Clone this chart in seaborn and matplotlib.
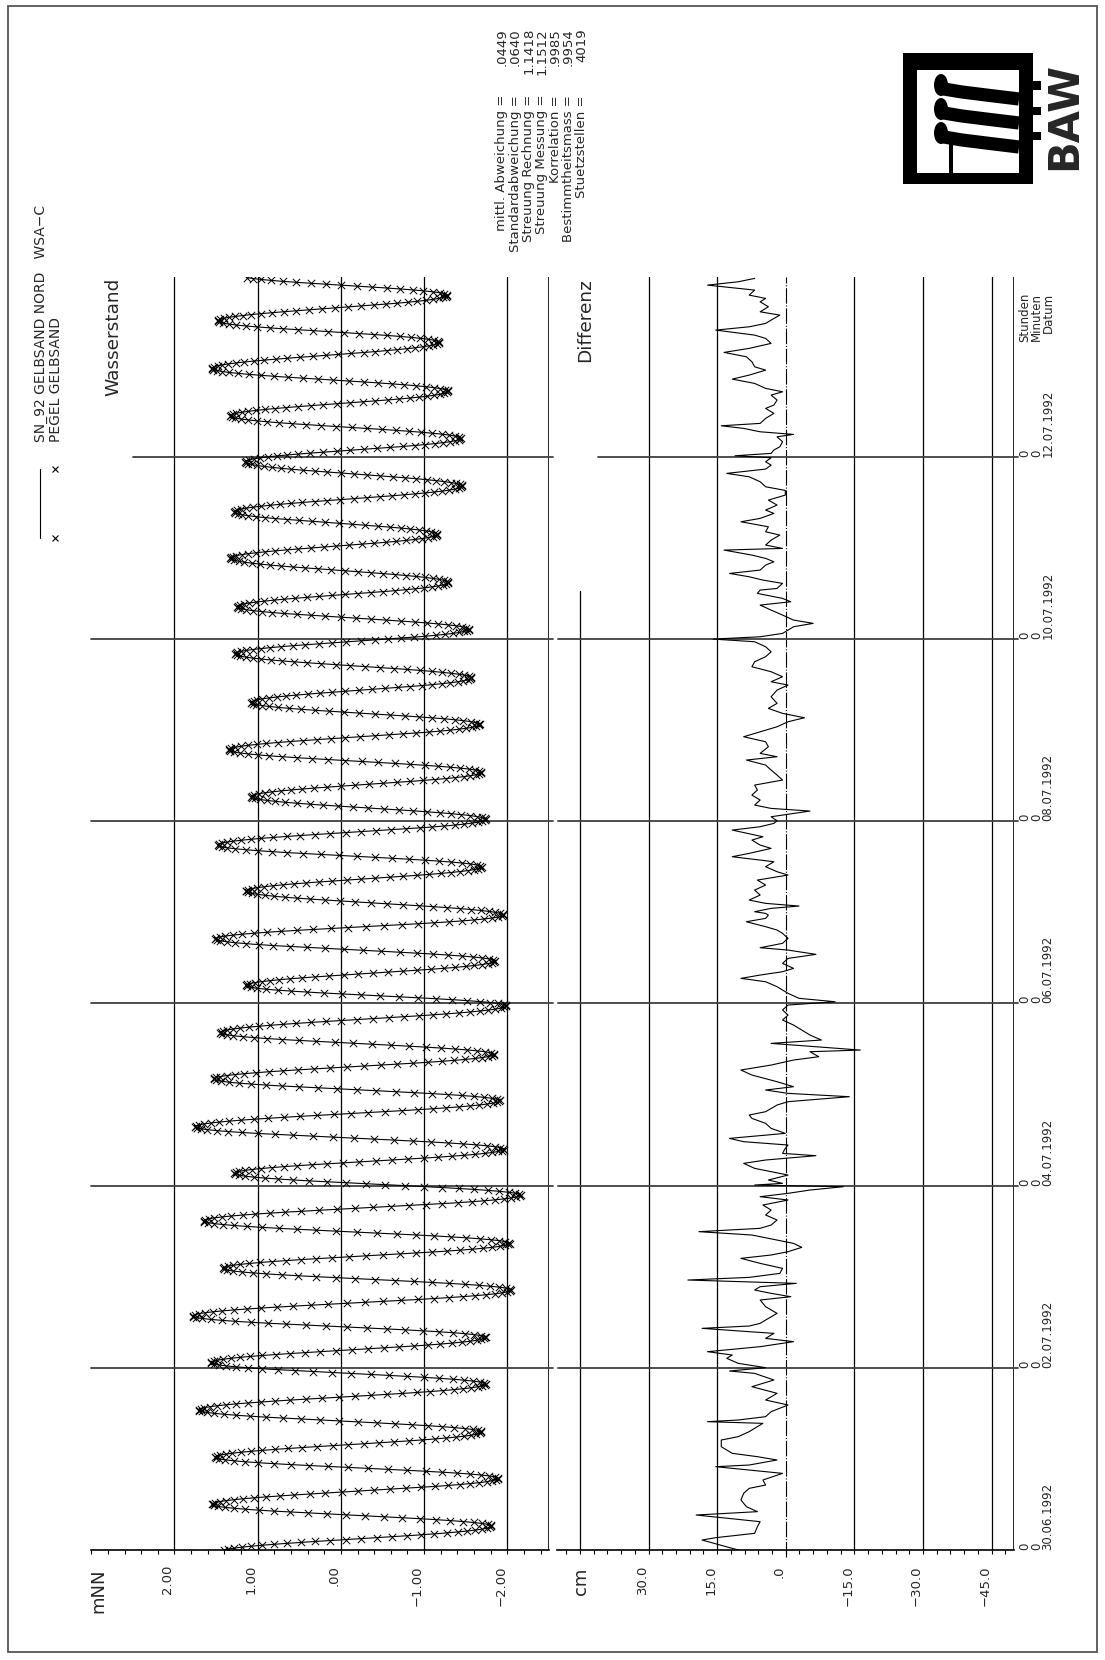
import numpy as np
import pandas as pd
import matplotlib
matplotlib.use("Agg")
import matplotlib.pyplot as plt
import seaborn as sns
from matplotlib.patches import Rectangle, Ellipse
from matplotlib.transforms import blended_transform_factory

# ------------------------------------------------------------------
# Wasserstand: Hoch- und Niedrigwasser (Stunden ab 30.06.1992 0:00, mNN)
# ------------------------------------------------------------------
tide_hours = [-0.5, 6.32, 12.03, 18.88, 24.41, 31.09, 36.88, 43.73, 49.35, 56.03,
              61.65, 68.5, 74.2, 80.8, 86.7, 93.5, 99.2, 105.6, 111.5, 118.4,
              124.1, 130.6, 136.3, 143.4, 148.7, 155.2, 161.0, 167.3, 173.6, 180.0,
              185.7, 192.5, 198.5, 204.9, 210.8, 217.5, 223.3, 229.8, 236.1, 242.6,
              248.5, 254.9, 261.3, 267.6, 273.5, 280.3, 286.7, 292.9, 298.8, 305.3,
              311.3, 318.2, 323.8, 330.6, 335.8]
tide_levels = [1.45, -1.81, 1.55, -1.89, 1.51, -1.69, 1.71, -1.74, 1.56, -1.74,
               1.78, -2.05, 1.42, -2.03, 1.65, -2.16, 1.28, -1.96, 1.75, -1.91,
               1.53, -1.84, 1.45, -1.99, 1.14, -1.85, 1.51, -1.95, 1.14, -1.69,
               1.48, -1.74, 1.08, -1.69, 1.35, -1.67, 1.08, -1.57, 1.27, -1.54,
               1.25, -1.29, 1.33, -1.16, 1.28, -1.46, 1.15, -1.44, 1.33, -1.29,
               1.55, -1.18, 1.48, -1.28, 1.20]

# ------------------------------------------------------------------
# Differenz Rechnung - Messung (Stunden, cm)
# ------------------------------------------------------------------
diff_hours = [
    0.00, 2.63, 3.25, 4.39, 6.15, 7.46, 9.22, 10.10, 11.41, 13.17, 14.93, 16.24,
    17.12, 18.44, 20.19, 21.95, 22.39, 23.71, 24.59, 25.47, 27.22, 28.98, 29.86,
    31.18, 32.49, 33.37, 33.81, 34.25, 35.13, 36.45, 38.20, 39.52, 41.28, 43.03,
    44.79, 46.54, 47.16, 48.04, 49.18, 50.50, 51.37, 52.25, 53.57, 54.89, 55.76,
    57.08, 57.52, 58.40, 59.01, 59.71, 60.59, 62.35, 64.10, 65.86, 66.74, 67.62,
    68.50, 69.37, 70.25, 71.13, 71.83, 72.88, 74.20, 75.52, 76.84, 77.72, 78.60,
    79.74, 80.79, 81.67,
    82.99, 83.87, 84.75, 85.62, 86.94, 88.26, 89.57, 90.89, 92.21, 93.09, 93.97,
    94.84, 95.72, 96.16, 96.60, 97.48, 98.79, 100.55, 101.87, 102.75, 103.89,
    104.50, 105.82, 106.70, 107.58, 108.45, 109.77, 111.09, 112.41, 113.72,
    114.60, 115.48, 117.24, 118.12, 119.43, 120.31, 121.19, 122.07, 123.38,
    125.14, 126.46, 127.77, 129.09, 129.97, 131.28, 131.72, 132.60, 133.48,
    134.36, 135.68, 136.99, 138.31, 139.63, 140.95, 142.26, 143.58, 144.45,
    145.35, 146.67, 147.53, 148.41, 149.72, 150.61, 151.48, 152.36, 153.24,
    154.56, 155.87, 156.93, 158.07, 158.68, 159.84, 161.15, 162.47, 163.34,
    164.22, 165.53, 166.42, 167.29,
    167.73, 168.17, 169.05, 169.66, 170.37, 171.24, 172.56, 173.88, 175.19,
    176.51, 177.83, 178.71, 180.02, 181.34, 182.66, 183.54, 184.85, 185.73,
    187.05, 187.92, 189.68, 190.56, 191.44, 192.14, 193.19, 194.07, 194.69,
    195.39, 196.27, 197.59, 198.90, 200.22, 201.54, 202.86, 204.17, 205.49,
    206.81, 208.13, 209.00, 209.89, 211.63, 212.95, 214.27, 215.58, 216.90,
    218.22, 219.27, 220.43, 221.74, 223.06, 224.81, 226.57, 227.88, 228.76,
    230.08, 231.40, 232.71, 234.03, 235.35, 236.66, 237.98, 239.30, 240.00,
    240.61, 241.50, 242.37, 243.25, 244.14, 245.01, 246.33, 247.64, 248.96,
    249.84, 250.72, 252.04, 252.91,
    253.35, 254.67, 255.55, 256.42, 257.30, 258.18, 259.50, 260.37, 261.26,
    262.13, 263.45, 263.89, 264.77, 266.08, 267.40, 268.27, 269.59, 270.91,
    271.80, 273.11, 273.99, 275.31, 276.62, 277.94, 279.17, 280.13, 281.45,
    282.76, 283.66, 284.79, 285.84, 286.71, 287.77, 288.30, 288.93, 289.80,
    290.67, 291.99, 293.30, 293.93, 294.62, 295.51, 296.20, 296.83, 298.15,
    299.46, 300.78, 301.65, 302.97, 304.28, 305.16, 306.05, 307.36, 308.50,
    309.55, 310.87, 311.74, 313.06, 314.38, 315.53, 316.59, 317.91, 319.22,
    320.09, 321.41, 322.28, 323.17, 324.04, 325.36, 326.23, 327.55, 328.87,
    329.76, 330.63, 331.95, 333.26, 334.14, 335.03]
diff_cm = [
    10.4, 18.3, 15.3, 6.8, 6.2, 5.6, 19.6, 6.2, 8.6, 9.8, 9.2, 8.0,
    4.4, 5.0, 0.7, 15.3, 8.0, 1.9, 6.2, 11.7, 14.1, 14.1, 10.4,
    8.0, 6.2, 5.0, 17.1, 10.4, 4.4, 3.2, -0.5, 4.4, 1.9, 7.4,
    2.6, 6.8, 12.3, 4.4, 10.4, 12.9, 11.7, 17.1, 5.6, -1.7, 4.4,
    2.6, 8.0, 18.3, 8.0, 5.6, 4.4, 1.9, 4.4, 5.6, -1.1, 3.2,
    6.8, 5.6, -2.3, 21.4, 8.0, 1.3, 0.7, 5.6, 9.8, 3.2, -0.5,
    -3.5, -1.7, 1.9,
    7.4, 19.0, 5.6, 3.2, 1.9, 4.4, 3.2, 5.0, -0.5, 5.6, -0.5,
    -5.3, -12.6, 6.8, 0.7, 3.8, -0.5, 6.8, 9.2, 4.4, -6.6,
    0.7, 0.1, -0.5, 9.2, 12.3, 0.1, 3.2, 4.4, 7.4,
    8.0, 4.4, 1.9, -0.5, -13.9, -0.5, 4.4, -1.7, 1.9,
    7.4, 9.8, 3.2, -1.7, -7.2, -5.3, -16.3, -6.6, 3.2,
    -7.8, -5.3, -3.5, -1.7, 0.7, -0.5, 0.7, -0.5, -10.8,
    -2.9, -0.5, 0.7, 1.9, 4.4, 9.8, 5.6, 0.7, -1.7,
    0.7, -0.5, -6.6, -0.5, 5.6, 0.7, -0.5, 0.7, 1.9,
    4.4, 8.6, 4.4, 3.8,
    4.4, 6.8, 3.2, -2.9, 4.4, 8.0, 5.6, 6.8, 4.4,
    6.2, -0.5, 1.9, 4.4, 2.6, 11.7, 8.0, 3.2, 5.6,
    7.4, 5.0, 11.7, 5.6, 2.6, 1.9, 3.2, -1.7, -5.3,
    3.2, 6.8, 5.6, 7.4, 6.2, 6.8, 0.7, 1.9, 3.2,
    4.4, 8.6, 1.9, 5.6, 3.8, 4.4, 9.2, 5.6, 1.9,
    -0.5, -4.1, 0.7, 3.8, 1.9, 3.2, 1.9, -0.5, 3.2,
    0.7, 3.2, 7.4, 6.8, 4.4, 3.2, 4.4, 6.8, 15.9,
    5.6, 0.7, -0.5, -1.7, -6.0, -1.7, 0.7, 3.2, 5.6,
    -1.1, 0.7, 6.2, 5.6,
    1.9, 0.7, 5.0, 8.0, 12.3, 5.6, 4.4, 2.6, 4.4,
    7.4, 13.5, 0.7, 4.4, 3.2, 1.3, 4.4, 3.8, 9.8,
    5.6, 2.6, 4.4, 1.9, 3.8, 0.1, 0.1, 4.4, 5.6,
    8.0, 12.9, 4.4, 3.2, 4.4, 3.2, 11.1, 3.2, 2.6,
    1.3, 0.7, 1.9, -1.7, 5.6, 9.2, 14.1, 5.6, 4.4,
    2.6, 4.4, 2.6, 1.9, 3.2, 0.7, 4.4, 6.8, 11.7,
    8.0, 4.4, 6.8, 7.4, 8.6, 13.5, 8.0, 3.2, 4.4,
    6.8, 15.3, 8.0, 4.4, 3.2, 1.3, 5.6, 3.8, 5.6,
    4.4, 8.0, 6.8, 17.1, 10.4, 6.8]

# Achsenbeschriftungen
date_days = [0, 2, 4, 6, 8, 10, 12]
date_labels = ["30.06.1992", "02.07.1992", "04.07.1992", "06.07.1992",
               "08.07.1992", "10.07.1992", "12.07.1992"]
time_rows = ["Stunden", "Minuten", "Datum"]
level_ticks = [2, 1, 0, -1, -2]
level_tick_labels = ["2.00", "1.00", ".00", "\u22121.00", "\u22122.00"]
diff_ticks = [30, 15, 0, -15, -30, -45]
diff_tick_labels = ["30.0", "15.0", ".0", "\u221215.0", "\u221230.0", "\u221245.0"]

stat_names = ["mittl. Abweichung", "Standardabweichung", "Streuung Rechnung",
              "Streuung Messung", "Korrelation", "Bestimmtheitsmass", "Stuetzstellen"]
stat_values = [".0449", ".0640", "1.1418", "1.1512", ".9985", ".9954", "4019"]

# ------------------------------------------------------------------
# Ganglinie: halbe Kosinuswelle zwischen aufeinanderfolgenden Scheiteln
# ------------------------------------------------------------------
T_END = 335.4
t_ext = np.asarray(tide_hours)
h_ext = np.asarray(tide_levels)
t = np.arange(0.0, 335.3, 1.0 / 12.0)          # 5-Minuten-Raster
k = np.clip(np.searchsorted(t_ext, t, side="right") - 1, 0, len(t_ext) - 2)
phase = (t - t_ext[k]) / (t_ext[k + 1] - t_ext[k])
level = 0.5 * (h_ext[k] + h_ext[k + 1]) + 0.5 * (h_ext[k] - h_ext[k + 1]) * np.cos(np.pi * phase)

calc = pd.DataFrame({"stunde": t, "wasserstand": level})
meas = calc.iloc[::3]                            # Pegelwerte alle 15 Minuten
diff = pd.DataFrame({"stunde": diff_hours, "differenz": diff_cm})

# ------------------------------------------------------------------
# Figur
# ------------------------------------------------------------------
sns.set_theme(style="white")
plt.rcParams["font.family"] = ["DejaVu Sans"]
plt.rcParams["axes.linewidth"] = 1.0

W, H = 1105, 1660
fig = plt.figure(figsize=(W / 100, H / 100), dpi=100)
fig.patch.set_facecolor("white")

Y_TOP, Y_BOT = 277.0, 1550.0
def fy(py):
    return 1.0 - py / H

ax_w = fig.add_axes([91.3 / W, fy(Y_BOT), (548.9 - 91.3) / W, (Y_BOT - Y_TOP) / H])
ax_d = fig.add_axes([557.1 / W, fy(Y_BOT), (1014.4 - 557.1) / W, (Y_BOT - Y_TOP) / H])

for ax in (ax_w, ax_d):
    ax.set_facecolor("none")
    for s in ("top", "left", "right"):
        ax.spines[s].set_visible(False)
    ax.spines["bottom"].set_color("black")
    ax.spines["bottom"].set_linewidth(1.2)
    ax.set_yticks([])
    ax.grid(False)
    ax.tick_params(axis="x", which="both", direction="out", length=3, width=0.8,
                   color="black", bottom=True, labelbottom=False)

ax_w.set_xticks(np.round(np.arange(-2.4, 3.01, 0.2), 1))
ax_d.set_xticks(np.arange(-48, 49, 3))

# Gitter Wasserstand
for v in level_ticks:
    ax_w.axvline(v, color="black", lw=0.9, zorder=1)
ax_w.axvline(-2.5, color="black", lw=1.2, zorder=1)
for d in date_days[1:]:
    x0 = 2.5 if d == 12 else 3.0
    ax_w.plot([x0, -2.55], [24 * d, 24 * d], color="#404040", lw=1.3,
              clip_on=False, zorder=1)

# Gitter Differenz
for v in diff_ticks:
    if v == 0:
        ax_d.plot([0, 0], [-1.9, T_END], color="black", lw=0.8,
                  dashes=(14, 1.6, 1, 1.6), clip_on=False, zorder=1)
    else:
        ax_d.axvline(v, color="black", lw=0.9, zorder=1)
ax_d.plot([45, 45], [0, 252.6], color="black", lw=0.9, zorder=1)
ax_d.axvline(-50, color="black", lw=1.2, zorder=1)
for d in date_days[1:]:
    x0 = 41.1 if d == 12 else 49.8
    ax_d.plot([x0, -50.8], [24 * d, 24 * d], color="#404040", lw=1.3,
              clip_on=False, zorder=1)

# Daten
sns.lineplot(data=calc, x="wasserstand", y="stunde", ax=ax_w, sort=False,
             estimator=None, orient="y", color="black", lw=0.8, zorder=3)
sns.scatterplot(data=meas, x="wasserstand", y="stunde", ax=ax_w, marker="x",
                s=28, color="black", linewidth=0.7, zorder=4)
sns.lineplot(data=diff, x="differenz", y="stunde", ax=ax_d, sort=False,
             estimator=None, orient="y", color="black", lw=0.8, zorder=3)
for ax in (ax_w, ax_d):
    ax.set_xlabel("")
    ax.set_ylabel("")
    ax.set_ylim(0, T_END)
ax_w.set_xlim(3.0, -2.5)
ax_d.set_xlim(50, -50)

# Achsbeschriftung unten
lab_y = -(1565 - Y_BOT) / (Y_BOT - Y_TOP)
unit_y = -(1568 - Y_BOT) / (Y_BOT - Y_TOP)
tw = blended_transform_factory(ax_w.transData, ax_w.transAxes)
td = blended_transform_factory(ax_d.transData, ax_d.transAxes)
for v, lab in zip(level_ticks, level_tick_labels):
    ax_w.text(v, lab_y, lab, transform=tw, rotation=90, ha="right", va="top", fontsize=9.5)
ax_w.text(2.92, unit_y, "mNN", transform=tw, rotation=90, ha="center", va="top", fontsize=13)
for v, lab in zip(diff_ticks, diff_tick_labels):
    ax_d.text(v, lab_y, lab, transform=td, rotation=90, ha="right", va="top", fontsize=9.5)
ax_d.text(44.8, unit_y, "cm", transform=td, rotation=90, ha="center", va="top", fontsize=13)

# ------------------------------------------------------------------
# Blattrahmen, Kopf, Statistik, Logo (Pixelkoordinaten)
# ------------------------------------------------------------------
ov = fig.add_axes([0, 0, 1, 1])
ov.set_xlim(0, W)
ov.set_ylim(H, 0)
ov.set_autoscale_on(False)
ov.axis("off")

ov.add_patch(Rectangle((8, 6), 1089, 1646, fill=False, lw=1.3, ec="#555555"))

# Legende
ov.plot([40, 40], [469, 538], color="black", lw=0.8)
ov.plot([55, 55], [469, 538], ls="none", marker="x", ms=5, mew=0.8, color="black")
ov.text(41, 442, "SN_92 GELBSAND NORD   WSA\u2212C", rotation=90, ha="center",
        va="bottom", fontsize=10)
ov.text(55.5, 442, "PEGEL GELBSAND", rotation=90, ha="center", va="bottom", fontsize=10)

ov.text(113, 278, "Wasserstand", rotation=90, ha="center", va="top", fontsize=13.3)
ov.text(585, 278, "Differenz", rotation=90, ha="center", va="top", fontsize=13.3)

# Kennzahlen
for i, (name, val) in enumerate(zip(stat_names, stat_values)):
    x = 502 + 13.3 * i
    ov.text(x, 95, f"{name} =", rotation=90, ha="center", va="top", fontsize=9.5)
    ov.text(x, 28, val, rotation=90, ha="center", va="top", fontsize=9.5)

# Zeitachse rechts
cols = (1025.0, 1036.5, 1048.0)
for d, lab in zip(date_days, date_labels):
    yt = Y_BOT - (Y_BOT - Y_TOP) * (24 * d / T_END)
    for x, s in zip(cols, ("0", "0", lab)):
        ov.text(x, yt, s, rotation=90, ha="center", va="bottom", fontsize=8.5)
for x, s in zip(cols, time_rows):
    ov.text(x, 293, s, rotation=90, ha="center", va="top", fontsize=8.5)

# Logo
ov.add_patch(Rectangle((903, 53), 130, 131, fc="black", ec="none"))
ov.add_patch(Rectangle((917, 70), 102, 103, fc="white", ec="none"))
for yt0, hh in ((81, 9), (107, 8), (132, 8)):
    ov.add_patch(Rectangle((1032, yt0), 9, hh, fc="black", ec="none"))
for yc in (89, 113, 137):
    ov.plot([944, 962, 990, 1019], [yc, yc + 3, yc + 6.5, yc + 10], color="black",
            lw=9.5, solid_capstyle="butt")
    ov.add_patch(Ellipse((941, yc - 4), 14, 22, fc="black", ec="none"))
ov.add_patch(Rectangle((949, 140), 4, 33, fc="black", ec="none"))
ov.text(1064, 115.5, "BAW", rotation=90, ha="center", va="center",
        fontsize=30, fontweight="bold")

fig.savefig("out.png", dpi=100, facecolor="white")
